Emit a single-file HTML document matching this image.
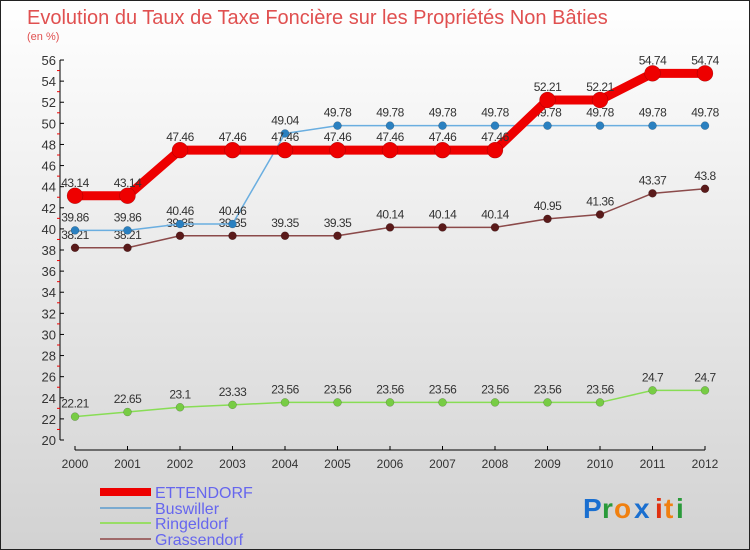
<!DOCTYPE html>
<html><head><meta charset="utf-8"><style>
body{margin:0;}
#c{width:750px;height:550px;position:relative;overflow:hidden;}
svg text{font-family:"Liberation Sans",sans-serif;}
</style></head><body>
<div id="c">
<svg id="s" width="750" height="550" xmlns="http://www.w3.org/2000/svg">
<defs><linearGradient id="bg" x1="0" y1="0" x2="0" y2="1"><stop offset="0" stop-color="#ffffff"/><stop offset="1" stop-color="#d2d2d2"/></linearGradient></defs>
<rect x="0.5" y="0.5" width="749" height="549" fill="url(#bg)" stroke="#222"/>
<text x="27" y="24" font-size="20" fill="#e05050">Evolution du Taux de Taxe Foncière sur les Propriétés Non Bâties</text>
<text x="27" y="40" font-size="11" fill="#e05050">(en %)</text>
<g id="axes"></g><g id="series"></g><g id="legend"></g>
<g font-size="28" font-weight="bold">
<text x="583" y="518" fill="#1a6fd0">P</text><text x="602" y="518" fill="#2a9a3a">r</text><text x="614" y="518" fill="#f08010">o</text><text x="634" y="518" fill="#1a6fd0">x</text><text x="655" y="518" fill="#e03010">i</text><text x="664" y="518" fill="#f08010">t</text><text x="676" y="518" fill="#2a9a3a">i</text>
</g>
</svg></div>
<script>
const years=[2000,2001,2002,2003,2004,2005,2006,2007,2008,2009,2010,2011,2012];
const ettendorf=[43.14,43.14,47.46,47.46,47.46,47.46,47.46,47.46,47.46,52.21,52.21,54.74,54.74];
const buswiller=[39.86,39.86,40.46,40.46,49.04,49.78,49.78,49.78,49.78,49.78,49.78,49.78,49.78];
const ringeldorf=[22.21,22.65,23.1,23.33,23.56,23.56,23.56,23.56,23.56,23.56,23.56,24.7,24.7];
const grassendorf=[38.21,38.21,39.35,39.35,39.35,39.35,40.14,40.14,40.14,40.95,41.36,43.37,43.8];
const yTicks=[20,22,24,26,28,30,32,34,36,38,40,42,44,46,48,50,52,54,56];
const names=["ETTENDORF","Buswiller","Ringeldorf","Grassendorf"];
const NS="http://www.w3.org/2000/svg";
const X=i=>75+i*52.5;
const Y=v=>440-(v-20)*10.555;
function mk(t,a,p){const e=document.createElementNS(NS,t);for(const k in a)e.setAttribute(k,a[k]);p.appendChild(e);return e;}
const ax=document.getElementById('axes');
let l=mk('line',{x1:60,y1:60,x2:60,y2:440,stroke:'#000'},ax);


l=mk('line',{x1:75,y1:450,x2:705,y2:450,stroke:'#000'},ax);


yTicks.forEach(v=>{
 mk('line',{x1:60,y1:Y(v),x2:64,y2:Y(v),stroke:'#000'},ax);
 if(v<56)mk('line',{x1:57,y1:Y(v+1),x2:60,y2:Y(v+1),stroke:'#e00'},ax);
 const t=mk('text',{x:56,y:Y(v)+5,'font-size':13,fill:'#333','text-anchor':'end'},ax);t.textContent=v;
 
 
});
years.forEach((yr,i)=>{
 mk('line',{x1:X(i),y1:446,x2:X(i),y2:450,stroke:'#000'},ax);
 const t=mk('text',{x:X(i),y:468,'font-size':12,fill:'#333','text-anchor':'middle'},ax);t.textContent=yr;
 
 
});
const sg=document.getElementById('series');
function series(data,name,col,dot,w,r){
 const g=mk('g',{},sg);
 
 
 mk('polyline',{points:data.map((v,i)=>X(i)+','+Y(v)).join(' '),fill:'none',stroke:col,'stroke-width':w,'stroke-linejoin':'round'},g);
 data.forEach((v,i)=>{
  const c=mk('circle',{cx:X(i),cy:Y(v),r:r,fill:dot,stroke:'rgba(0,0,0,0.3)','stroke-width':0.5},g);
  
  
  const t=mk('text',{x:X(i),y:Y(v)-9,'font-size':12,fill:'#333','text-anchor':'middle','letter-spacing':'-0.5'},g);t.textContent=v;
  
  
 });
}
series(ringeldorf,'ringeldorf','#88dd55','#77cc44',1.5,4);
series(grassendorf,'grassendorf','#8b4a4a','#5a1a1a',1.5,4);
series(buswiller,'buswiller','#6aaee0','#2a80c0',1.5,4);
series(ettendorf,'ettendorf','#ee0000','#ee0000',9,8);
const lg=document.getElementById('legend');
const lc=['#ee0000','#7aaad0','#99dd66','#a06a6a'],lw=[8,2,2,2],ly=[492,508,523,539];
names.forEach((n,i)=>{
 const g=mk('g',{},lg);
 
 
 mk('line',{x1:100,y1:ly[i],x2:151,y2:ly[i],stroke:lc[i],'stroke-width':lw[i]},g);
 const t=mk('text',{x:155,y:ly[i]+6,'font-size':16,fill:'#6666ee'},g);t.textContent=n;
});
</script>
</body></html>
